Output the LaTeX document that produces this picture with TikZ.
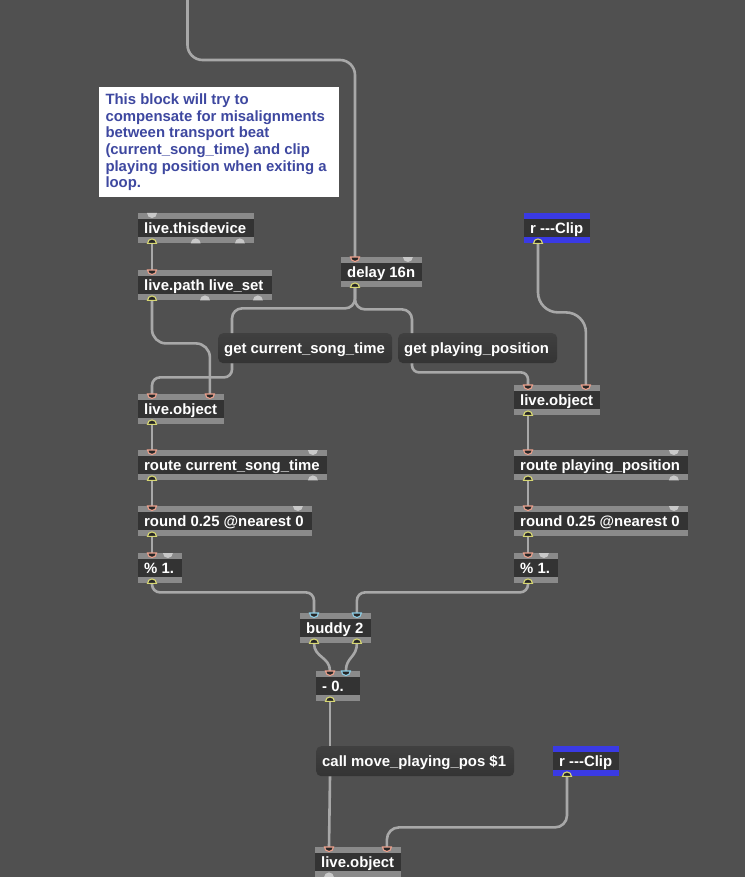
\documentclass[tikz,border=0pt]{standalone}
\usepackage{fontspec}
\setmainfont{Liberation Sans}
\definecolor{bg}{RGB}{80,80,80}
\definecolor{objbody}{RGB}{51,51,51}
\definecolor{objbar}{RGB}{138,138,138}
\definecolor{sendbar}{RGB}{58,58,228}
\definecolor{msgtop}{RGB}{64,64,64}
\definecolor{msgbot}{RGB}{52,52,52}
\definecolor{cordc}{RGB}{168,168,168}
\definecolor{hotc}{RGB}{235,160,140}
\definecolor{outc}{RGB}{215,215,115}
\definecolor{coldc}{RGB}{140,205,230}
\definecolor{offc}{RGB}{200,200,200}
\definecolor{portfill}{RGB}{38,38,38}
\definecolor{cmtc}{RGB}{62,72,160}
\tikzset{
  mbox/.style={anchor=north west, inner sep=0pt, minimum height=30pt, fill=objbody, draw=none,
    path picture={\fill[#1] (path picture bounding box.north west) rectangle ([yshift=-6pt]path picture bounding box.north east);
                  \fill[#1] (path picture bounding box.south west) rectangle ([yshift=6pt]path picture bounding box.south east);}},
  mbox/.default=objbar,
  mtext/.style={text=white, font=\bfseries\fontsize{14.9}{17}\selectfont, inner sep=0pt, text height=10.7pt, text depth=0pt, anchor=west},
  msgbox/.style={anchor=north west, inner sep=0pt, minimum height=30pt, rounded corners=5pt, top color=msgtop, bottom color=msgbot, draw=none},
  cord/.style={draw=cordc, line width=2.6pt},
  cmttext/.style={align=left, font=\bfseries\fontsize{14.9}{16.7}\selectfont, text=cmtc, inner sep=0pt, anchor=north west}
}
\newcommand\mobj[6][objbar]{%
  \pgfmathsetmacro\mw{#5-#3}%
  \node[mbox=#1, minimum width=\mw pt] (#2) at (#3,#4) {};
  \node[mtext] (#2t) at ([xshift=6pt]#2.west) {#6};}
\newcommand\mmsg[5]{%
  \pgfmathsetmacro\mw{#4-#2}%
  \node[msgbox, minimum width=\mw pt] (#1) at (#2,#3) {};
  \node[mtext] (#1t) at ([xshift=6pt]#1.west) {#5};}
% inlet: #1 anchor, #2 xshift, #3 colour
\newcommand\inl[3]{%
  \pgfmathsetmacro\px{#2-4.5}%
  \filldraw[fill=portfill, draw=#3, line width=1.1pt] ([xshift=\px pt]#1) arc[start angle=180, end angle=0, radius=4.5] -- cycle;}
\newcommand\outl[3]{%
  \pgfmathsetmacro\px{#2-4.5}%
  \filldraw[fill=portfill, draw=#3, line width=1.1pt] ([xshift=\px pt]#1) arc[start angle=180, end angle=360, radius=4.5] -- cycle;}
\newcommand\inloff[2]{%
  \pgfmathsetmacro\px{#2-5}%
  \fill[offc] ([xshift=\px pt]#1) arc[start angle=180, end angle=0, radius=5] -- cycle;}
\newcommand\outloff[2]{%
  \pgfmathsetmacro\px{#2-5}%
  \fill[offc] ([xshift=\px pt]#1) arc[start angle=180, end angle=360, radius=5] -- cycle;}
\begin{document}
\begin{tikzpicture}[x=1pt, y=-1pt]
\useasboundingbox (0,0) rectangle (745,877);
\fill[bg] (0,0) rectangle (745,877);
% comment
\node[fill=white, anchor=north west, minimum width=240pt, minimum height=110pt, inner sep=0pt] (cmt) at (99,87) {};
\node[cmttext] (cmtt) at (105.3,93.5) {This block will try to\\compensate for misalignments\\between transport beat\\(current\_song\_time) and clip\\playing position when exiting a\\loop.};
% objects
\mobj{ltd}{138}{213}{254}{live.thisdevice}
\mobj{lps}{138}{270}{272}{live.path live\_set}
\mobj{del}{341}{257}{422}{delay 16n}
\mmsg{gcs}{218}{333}{392}{get current\_song\_time}
\mmsg{gpp}{398}{333}{557}{get playing\_position}
\mobj{lo1}{138}{394}{224}{live.object}
\mobj{lo2}{514}{385}{600}{live.object}
\mobj[sendbar]{rc1}{524}{213}{590}{r {-}{-}{-}Clip}
\mobj{rcs}{138}{450}{327}{route current\_song\_time}
\mobj{rpp}{514}{450}{688}{route playing\_position}
\mobj{rn1}{138}{506}{312}{round 0.25 @nearest 0}
\mobj{rn2}{514}{506}{688}{round 0.25 @nearest 0}
\mobj{md1}{138}{553}{182}{\% 1.}
\mobj{md2}{514}{553}{558}{\% 1.}
\mobj{bud}{300}{613}{371}{buddy 2}
\mobj{sub}{316}{671}{360}{- 0.}
\mmsg{call}{316}{746}{514}{call move\_playing\_pos \$1}
\mobj[sendbar]{rc2}{553}{746}{619}{r {-}{-}{-}Clip}
\mobj{lo3}{315}{847}{401}{live.object}
% cords
\coordinate (src) at (187.5,0);
\draw[cord, rounded corners=15pt] (src) -- ++(0,60) -| ([xshift=14pt]del.north west);
\draw[cord, rounded corners=10pt] ([xshift=14pt]del.south west) -- ++(0,21) -| ([xshift=14pt]gcs.north west);
\draw[cord, rounded corners=10pt] ([xshift=14pt]del.south west) -- ++(0,22) -| ([xshift=14pt]gpp.north west);
\draw[cord, rounded corners=8pt] ([xshift=14pt]gcs.south west) -- ++(0,14) -| ([xshift=14pt]lo1.north west);
\draw[cord, rounded corners=14pt] ([xshift=14pt]lps.south west) -- ++(0,43) -| ([xshift=-14.5pt]lo1.north east);
\draw[cord] ([xshift=14pt]ltd.south west) -- ([xshift=14pt]lps.north west);
\draw[cord] ([xshift=14pt]lo1.south west) -- ([xshift=14pt]rcs.north west);
\draw[cord] ([xshift=14pt]rcs.south west) -- ([xshift=14pt]rn1.north west);
\draw[cord] ([xshift=14pt]rn1.south west) -- ([xshift=14pt]md1.north west);
\draw[cord] ([xshift=14pt]lo2.south west) -- ([xshift=14pt]rpp.north west);
\draw[cord] ([xshift=14pt]rpp.south west) -- ([xshift=14pt]rn2.north west);
\draw[cord] ([xshift=14pt]rn2.south west) -- ([xshift=14pt]md2.north west);
\draw[cord, rounded corners=20pt] ([xshift=14pt]rc1.south west) -- ++(0,69) -| ([xshift=-14.5pt]lo2.north east);
\draw[cord, rounded corners=7pt] ([xshift=14pt]gpp.south west) -- ++(0,9) -| ([xshift=14pt]lo2.north west);
\draw[cord, rounded corners=8pt] ([xshift=14pt]md1.south west) -- ++(0,9) -| ([xshift=14pt]bud.north west);
\draw[cord, rounded corners=8pt] ([xshift=14pt]md2.south west) -- ++(0,9) -| ([xshift=-14.5pt]bud.north east);
\draw[cord] ([xshift=14pt]bud.south west) .. controls +(0,14) and +(0,-14) .. ([xshift=14pt]sub.north west);
\draw[cord] ([xshift=-14.5pt]bud.south east) .. controls +(0,14) and +(0,-14) .. ([xshift=-14.5pt]sub.north east);
\draw[cord] ([xshift=14pt]sub.south west) -- ([xshift=14pt]call.north west);
\draw[cord] ([xshift=14pt]call.south west) -- ([xshift=14pt]lo3.north west);
\draw[cord, rounded corners=12pt] ([xshift=14pt]rc2.south west) -- ++(0,51) -| ([xshift=-14.5pt]lo3.north east);
% ports
\inloff{ltd.north west}{14}
\outl{ltd.south west}{14}{outc}
\outloff{ltd.south west}{57.7}
\outloff{ltd.south east}{-14.5}
\inl{lps.north west}{14}{hotc}
\outl{lps.south west}{14}{outc}
\outloff{lps.south west}{67}
\outloff{lps.south east}{-14.5}
\inl{del.north west}{14}{hotc}
\inloff{del.north east}{-14.5}
\outl{del.south west}{14}{outc}
\inl{lo1.north west}{14}{hotc}
\inl{lo1.north east}{-14.5}{hotc}
\outl{lo1.south west}{14}{outc}
\inl{lo2.north west}{14}{hotc}
\inl{lo2.north east}{-14.5}{hotc}
\outl{lo2.south west}{14}{outc}
\outl{rc1.south west}{14}{outc}
\inl{rcs.north west}{14}{hotc}
\inloff{rcs.north east}{-14.5}
\outl{rcs.south west}{14}{outc}
\outloff{rcs.south east}{-14.5}
\inl{rpp.north west}{14}{hotc}
\inloff{rpp.north east}{-14.5}
\outl{rpp.south west}{14}{outc}
\outloff{rpp.south east}{-14.5}
\inl{rn1.north west}{14}{hotc}
\inloff{rn1.north east}{-14.5}
\outl{rn1.south west}{14}{outc}
\inl{rn2.north west}{14}{hotc}
\inloff{rn2.north east}{-14.5}
\outl{rn2.south west}{14}{outc}
\inl{md1.north west}{14}{hotc}
\inloff{md1.north east}{-14.5}
\outl{md1.south west}{14}{outc}
\inl{md2.north west}{14}{hotc}
\inloff{md2.north east}{-14.5}
\outl{md2.south west}{14}{outc}
\inl{bud.north west}{14}{coldc}
\inl{bud.north east}{-14.5}{coldc}
\outl{bud.south west}{14}{outc}
\outl{bud.south east}{-14.5}{outc}
\inl{sub.north west}{14}{hotc}
\inl{sub.north east}{-14.5}{coldc}
\outl{sub.south west}{14}{outc}
\outl{rc2.south west}{14}{outc}
\inl{lo3.north west}{14}{hotc}
\inl{lo3.north east}{-14.5}{hotc}
\outloff{lo3.south west}{14}
\end{tikzpicture}
\end{document}
